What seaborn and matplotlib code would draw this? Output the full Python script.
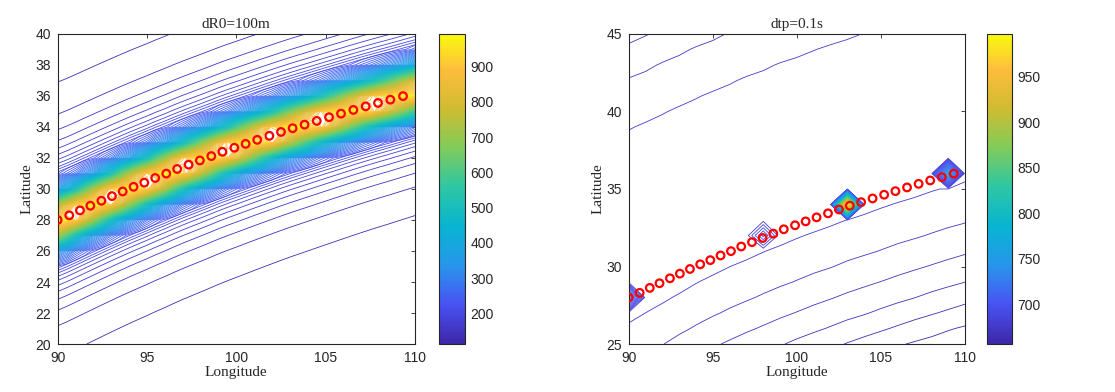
import numpy as np
import matplotlib
matplotlib.use("Agg")
import matplotlib.pyplot as plt
from matplotlib.colors import LinearSegmentedColormap, Normalize
from matplotlib.cm import ScalarMappable
import seaborn as sns

# red circles (same track on both panels)
track_lon = [90.00, 90.65, 91.25, 91.83, 92.45, 93.04, 93.64, 94.25, 94.85, 95.46,
             96.08, 96.69, 97.33, 97.96, 98.60, 99.22, 99.89, 100.52, 101.17, 101.85,
             102.50, 103.15, 103.82, 104.50, 105.19, 105.86, 106.55, 107.24, 107.93,
             108.62, 109.33]
track_lat = [28.00, 28.30, 28.62, 28.92, 29.24, 29.54, 29.84, 30.14, 30.41, 30.71,
             30.99, 31.29, 31.57, 31.84, 32.12, 32.40, 32.66, 32.91, 33.17, 33.43,
             33.68, 33.92, 34.15, 34.39, 34.63, 34.86, 35.10, 35.33, 35.55, 35.76,
             35.99]
# centre line of the fields, track plus its end at lon 110
ridge_lon = track_lon + [110.0]
ridge_lat = track_lat + [36.2]

# grids the fields were sampled on
left_grid_lon = np.arange(90, 110.01, 0.5)
left_grid_lat = np.arange(20, 41)
right_grid_lon = np.arange(90, 111)
right_grid_lat = np.arange(25, 46)

# left panel: value vs distance (deg lat) from the centre line
left_prof_d = [0, 0.5, 1, 1.5, 2, 2.5, 3, 3.5, 4, 4.5, 5, 6, 7, 8, 9, 10, 12, 14, 17]
left_prof_val = [993, 910, 720, 500, 350, 270, 224, 197, 180, 168, 158.5, 146, 138,
                 134, 130.2, 127.5, 124.8, 123.3, 122.5]
left_below_lon = [90, 110]
left_below_scale = [1.0, 0.89]  # lines below the track close in towards lon 110
left_clim = (113, 993)
left_far = 222  # levels below this are the smooth outer lines

# right panel: smooth ridge (signed distance, below < 0) plus spikes on grid nodes
right_prof_d = [-13.0, -9.93, -8.62, -7.14, -5.35, -3.26, -0.5, 0.0, 2.0, 5.0, 7.0,
                9.0, 10.6, 12.3, 14.0, 16.3, 18.0]
right_prof_val = [654.0, 659.5, 662.9, 666.4, 669.8, 673.3, 676.7, 677.5, 679.0, 679.4,
                  678.6, 677.7, 676.7, 675.0, 673.3, 669.8, 667.0]
right_shift_lon = [90, 95, 110]
right_shift = [0.9, 0.3, 0.0]
spike_lon = [90, 98, 103, 109]
spike_lat = [28, 32, 34, 36]
spike_val = [725, 695, 997, 755]
right_clim = (656, 997)

# parula-like colormap
parula = LinearSegmentedColormap.from_list("parula", [
    (0.000, (0.2422, 0.1504, 0.6603)),
    (0.127, (0.2810, 0.3228, 0.9578)),
    (0.254, (0.1540, 0.5902, 0.9218)),
    (0.381, (0.0297, 0.7082, 0.8163)),
    (0.508, (0.1802, 0.7800, 0.6400)),
    (0.635, (0.5044, 0.7993, 0.3480)),
    (0.762, (0.8185, 0.7327, 0.1882)),
    (0.889, (0.9956, 0.7434, 0.2371)),
    (1.000, (0.9763, 0.9831, 0.0538)),
])

sns.set_theme(style="white")
plt.rcParams["font.family"] = ["Liberation Sans", "DejaVu Sans"]
plt.rcParams["axes.edgecolor"] = "#262626"
plt.rcParams["xtick.color"] = "#262626"
plt.rcParams["ytick.color"] = "#262626"
serif = ["Liberation Serif", "DejaVu Serif"]

LON, LAT = np.meshgrid(left_grid_lon, left_grid_lat)
centre = np.interp(left_grid_lon, ridge_lon, ridge_lat)
d_signed = LAT - centre[None, :]
scale = np.interp(left_grid_lon, left_below_lon, left_below_scale)[None, :]
d_signed = np.where(d_signed < 0, d_signed / scale, d_signed)
z_left = np.interp(np.abs(d_signed), left_prof_d, left_prof_val)

LON2, LAT2 = np.meshgrid(right_grid_lon, right_grid_lat)
centre2 = np.interp(right_grid_lon, ridge_lon, ridge_lat)
d_right = LAT2 - centre2[None, :]
shift = np.interp(right_grid_lon, right_shift_lon, right_shift)[None, :]
d_right = np.where(d_right < 0, np.minimum(d_right + shift, 0), d_right)
z_right = np.interp(d_right, right_prof_d, right_prof_val)
for lo, la, v in zip(spike_lon, spike_lat, spike_val):
    z_right[list(right_grid_lat).index(la), list(right_grid_lon).index(lo)] = v

fig = plt.figure(figsize=(11.15, 3.92), dpi=100)
ax1 = fig.add_axes([0.0517, 0.1224, 0.3205, 0.791])
cax1 = fig.add_axes([0.3937, 0.1224, 0.0233, 0.791])
ax2 = fig.add_axes([0.5639, 0.1224, 0.3016, 0.791])
cax2 = fig.add_axes([0.8852, 0.1224, 0.0224, 0.791])

N_LEVELS = 100

# left panel: near field from the sampled grid, outer lines as distance contours
norm1 = Normalize(*left_clim)
lev1 = left_clim[0] + (left_clim[1] - left_clim[0]) / N_LEVELS * np.arange(1, N_LEVELS)
near = lev1[lev1 >= left_far]
far = lev1[lev1 < left_far]
ax1.contour(LON, LAT, z_left, levels=near, cmap=parula, norm=norm1, linewidths=0.6)
far_d = np.interp(far, left_prof_val[::-1], left_prof_d[::-1])
far_d = far_d[far_d < max(left_prof_d)]
far_v = np.interp(far_d, left_prof_d, left_prof_val)
d_levels = np.concatenate([-far_d, far_d[::-1]])
d_colors = [parula(norm1(v)) for v in np.concatenate([far_v, far_v[::-1]])]
ax1.contour(LON, LAT, d_signed, levels=d_levels, colors=d_colors, linewidths=0.6)

# right panel
norm2 = Normalize(*right_clim)
lev2 = right_clim[0] + (right_clim[1] - right_clim[0]) / N_LEVELS * np.arange(1, N_LEVELS)
ax2.contour(LON2, LAT2, z_right, levels=lev2, cmap=parula, norm=norm2, linewidths=0.6)

panels = [
    (ax1, cax1, norm1, "dR0=100m", range(20, 41, 2), range(200, 1000, 100)),
    (ax2, cax2, norm2, "dtp=0.1s", range(25, 46, 5), range(700, 1000, 50)),
]

for ax, cax, norm, title, yticks, cticks in panels:
    sns.scatterplot(x=track_lon, y=track_lat, ax=ax, s=30, marker="o", legend=False, zorder=5)
    pts = ax.collections[-1]
    pts.set_facecolor("none")
    pts.set_edgecolor("red")
    pts.set_linewidth(1.6)
    ax.set_xlim(90, 110)
    ax.set_ylim(min(yticks), max(yticks))
    ax.set_xticks(range(90, 111, 5))
    ax.set_yticks(list(yticks))
    ax.tick_params(direction="in", top=True, right=True, length=3, width=0.6, labelsize=10, pad=5)
    for s in ax.spines.values():
        s.set_linewidth(0.8)
    ax.set_title(title, fontsize=11, family=serif, pad=4)
    ax.set_xlabel("Longitude", fontsize=11, family=serif, labelpad=1)
    ax.set_ylabel("Latitude", fontsize=11, family=serif, labelpad=1)

    cb = fig.colorbar(ScalarMappable(norm=norm, cmap=parula), cax=cax)
    cb.set_ticks(list(cticks))
    cb.ax.tick_params(direction="in", length=3, width=0.6, labelsize=10, pad=4)
    cb.outline.set_linewidth(0.8)

fig.savefig("out.png", dpi=100)
